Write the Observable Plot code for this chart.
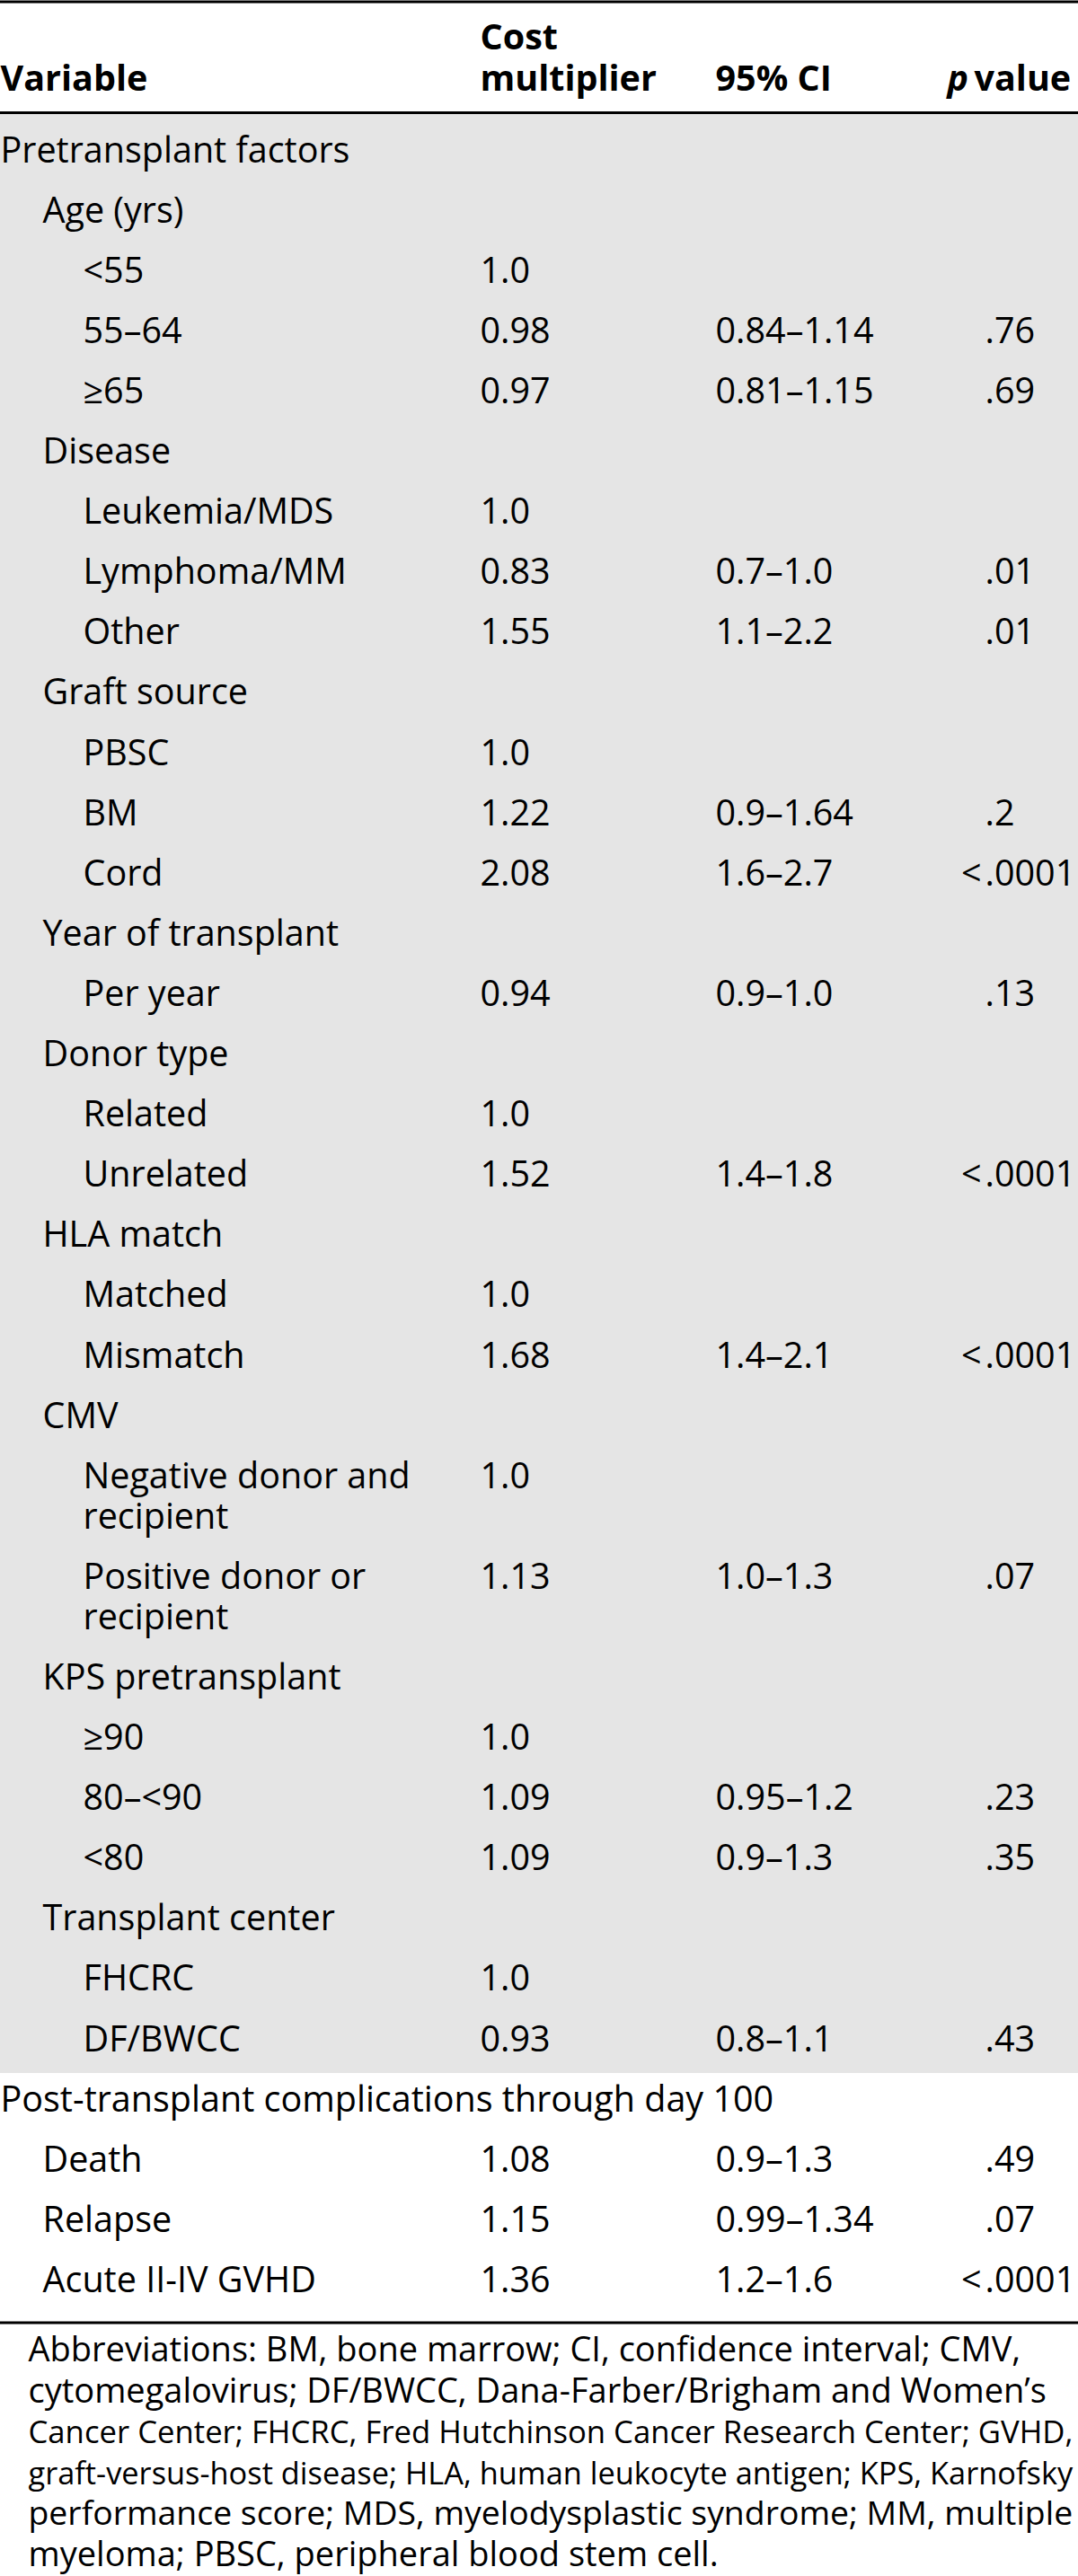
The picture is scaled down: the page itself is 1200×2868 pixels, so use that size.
<!DOCTYPE html>
<html><head><meta charset="utf-8">
<script src="https://cdn.jsdelivr.net/npm/d3@7"></script>
<script src="https://cdn.jsdelivr.net/npm/@observablehq/plot@0.6"></script>
<style>html,body{margin:0;padding:0;background:#fff} svg{display:block}</style>
</head><body><div id="chart"></div>
<script>
// ---------- data ----------
const headers = ["Variable", "Cost\nmultiplier", "95% CI", "p value"];
const variables = ["Pretransplant factors", "Age (yrs)", "<55", "55–64", "≥65",
  "Disease", "Leukemia/MDS", "Lymphoma/MM", "Other",
  "Graft source", "PBSC", "BM", "Cord",
  "Year of transplant", "Per year",
  "Donor type", "Related", "Unrelated",
  "HLA match", "Matched", "Mismatch",
  "CMV", "Negative donor and\nrecipient", "Positive donor or\nrecipient",
  "KPS pretransplant", "≥90", "80–<90", "<80",
  "Transplant center", "FHCRC", "DF/BWCC",
  "Post-transplant complications through day 100", "Death", "Relapse", "Acute II-IV GVHD"];
const levels = [0,1,2,2,2, 1,2,2,2, 1,2,2,2, 1,2, 1,2,2, 1,2,2, 1,2,2, 1,2,2,2, 1,2,2, 0,1,1,1];
const costMultiplier = [null,null,"1.0","0.98","0.97", null,"1.0","0.83","1.55", null,"1.0","1.22","2.08",
  null,"0.94", null,"1.0","1.52", null,"1.0","1.68", null,"1.0","1.13", null,"1.0","1.09","1.09",
  null,"1.0","0.93", null,"1.08","1.15","1.36"];
const ci95 = [null,null,null,"0.84–1.14","0.81–1.15", null,null,"0.7–1.0","1.1–2.2", null,null,"0.9–1.64","1.6–2.7",
  null,"0.9–1.0", null,null,"1.4–1.8", null,null,"1.4–2.1", null,null,"1.0–1.3", null,null,"0.95–1.2","0.9–1.3",
  null,null,"0.8–1.1", null,"0.9–1.3","0.99–1.34","1.2–1.6"];
const pValues = [null,null,null,".76",".69", null,null,".01",".01", null,null,".2","<.0001",
  null,".13", null,null,"<.0001", null,null,"<.0001", null,null,".07", null,null,".23",".35",
  null,null,".43", null,".49",".07","<.0001"];
const shadedSections = [true, false]; // Pretransplant factors shaded, post-transplant not
const footnoteLines = [
  "Abbreviations: BM, bone marrow; CI, confidence interval; CMV,",
  "cytomegalovirus; DF/BWCC, Dana-Farber/Brigham and Women’s",
  "Cancer Center; FHCRC, Fred Hutchinson Cancer Research Center; GVHD,",
  "graft-versus-host disease; HLA, human leukocyte antigen; KPS, Karnofsky",
  "performance score; MDS, myelodysplastic syndrome; MM, multiple",
  "myeloma; PBSC, peripheral blood stem cell."
];

// ---------- layout ----------
const W = 1200, H = 2868;
const FONT = "'Open Sans', sans-serif";
const FS = 39.5, FOOT_FS = 38;
const L = {headerBaseline: 100, headerLineGap: 46, topRule: 1.5, headerRule: 125,
  firstBaseline: 180, rowPitch: 67.1, lineGap: 45, rowAbove: 54, rowBelow: 25,
  bottomRuleGap: 34, footGap: 43, footPitch: 45.6};
const indent = [0, 47, 92];
const colX = {cost: 534, ci: 796, pDot: 1096, pHead: 1054, foot: 31, footRight: 1194};

const nLines = s => s.split("\n").length;
let acc = L.firstBaseline;
const rows = variables.map((v, i) => {
  const r = {i, label: v, level: levels[i], cost: costMultiplier[i], ci: ci95[i], p: pValues[i],
    lines: nLines(v), base: acc};
  acc += L.rowPitch + (r.lines - 1) * L.lineGap;
  return r;
});
rows.forEach(r => { r.lastBase = r.base + (r.lines - 1) * L.lineGap; });
const sections = [];
rows.forEach(r => { if (r.level === 0) sections.push([r]); else sections[sections.length - 1].push(r); });
const bands = sections.map((s, k) => ({shaded: shadedSections[k],
  top: k === 0 ? L.headerRule + 1.5 : s[0].base - L.rowAbove + 12,
  bottom: s[s.length - 1].lastBase + L.rowBelow})).filter(b => b.shaded);
const lastRow = rows[rows.length - 1];
const bottomRule = lastRow.lastBase + L.bottomRuleGap;
const rules = [L.topRule, L.headerRule, bottomRule];

// footnote lines that are too long are set slightly smaller so they fit the table width
const ctx = document.createElement("canvas").getContext("2d");
ctx.font = `${FOOT_FS}px ${FONT}`;
const maxW = colX.footRight - colX.foot;
const foot = footnoteLines.map((t, k) => ({t, y: bottomRule + L.footGap + k * L.footPitch,
  fs: Math.min(FOOT_FS, FOOT_FS * maxW / ctx.measureText(t).width)}));

const headerCells = [
  {t: headers[0], x: indent[0]},
  {t: headers[1], x: colX.cost},
  {t: headers[2], x: colX.ci}
].map(d => ({...d, y: L.headerBaseline}));
const [pWord, ...restWords] = headers[3].split(" ");

const pRows = rows.filter(r => r.p);
const splitP = s => { const k = s.indexOf("."); return [s.slice(0, k), s.slice(k)]; };

const common = {textAnchor: "start", lineAnchor: "bottom", fill: "#000"};
const chart = Plot.plot({
  width: W, height: H, margin: 0,
  x: {domain: [0, W], range: [0, W], axis: null},
  y: {domain: [0, H], range: [0, H], axis: null},
  style: {fontFamily: FONT, background: "#fff", color: "#000"},
  marks: [
    Plot.rect(bands, {x1: () => 0, x2: () => W, y1: "top", y2: "bottom", fill: "#e5e5e5"}),
    Plot.ruleY(rules, {stroke: "#000", strokeWidth: 3}),
    // header
    Plot.text(headerCells, {...common, x: "x", y: "y", text: "t", fontSize: FS, fontWeight: "bold", lineHeight: L.headerLineGap / FS}),
    Plot.text([pWord], {...common, x: () => colX.pHead, y: () => L.headerBaseline, text: d => d, fontSize: FS, fontWeight: "bold", fontStyle: "italic"}),
    Plot.text([restWords.join(" ")], {...common, x: () => colX.pHead + 30, y: () => L.headerBaseline, text: d => d, fontSize: FS, fontWeight: "bold"}),
    // body
    Plot.text(rows, {...common, x: d => indent[d.level], y: "lastBase", text: "label", fontSize: FS, lineHeight: L.lineGap / FS}),
    Plot.text(rows.filter(r => r.cost), {...common, x: () => colX.cost, y: "base", text: "cost", fontSize: FS}),
    Plot.text(rows.filter(r => r.ci), {...common, x: () => colX.ci, y: "base", text: "ci", fontSize: FS}),
    Plot.text(pRows, {...common, x: () => colX.pDot, y: "base", text: d => splitP(d.p)[1], fontSize: FS}),
    Plot.text(pRows.filter(r => splitP(r.p)[0]), {...common, textAnchor: "end", x: () => colX.pDot - 4, y: "base", text: d => splitP(d.p)[0], fontSize: FS}),
    // footnote
    Plot.text(foot, {...common, x: () => colX.foot, y: "y", text: "t", fontSize: "fs"})
  ]
});
document.getElementById("chart").appendChild(chart);
</script></body></html>
